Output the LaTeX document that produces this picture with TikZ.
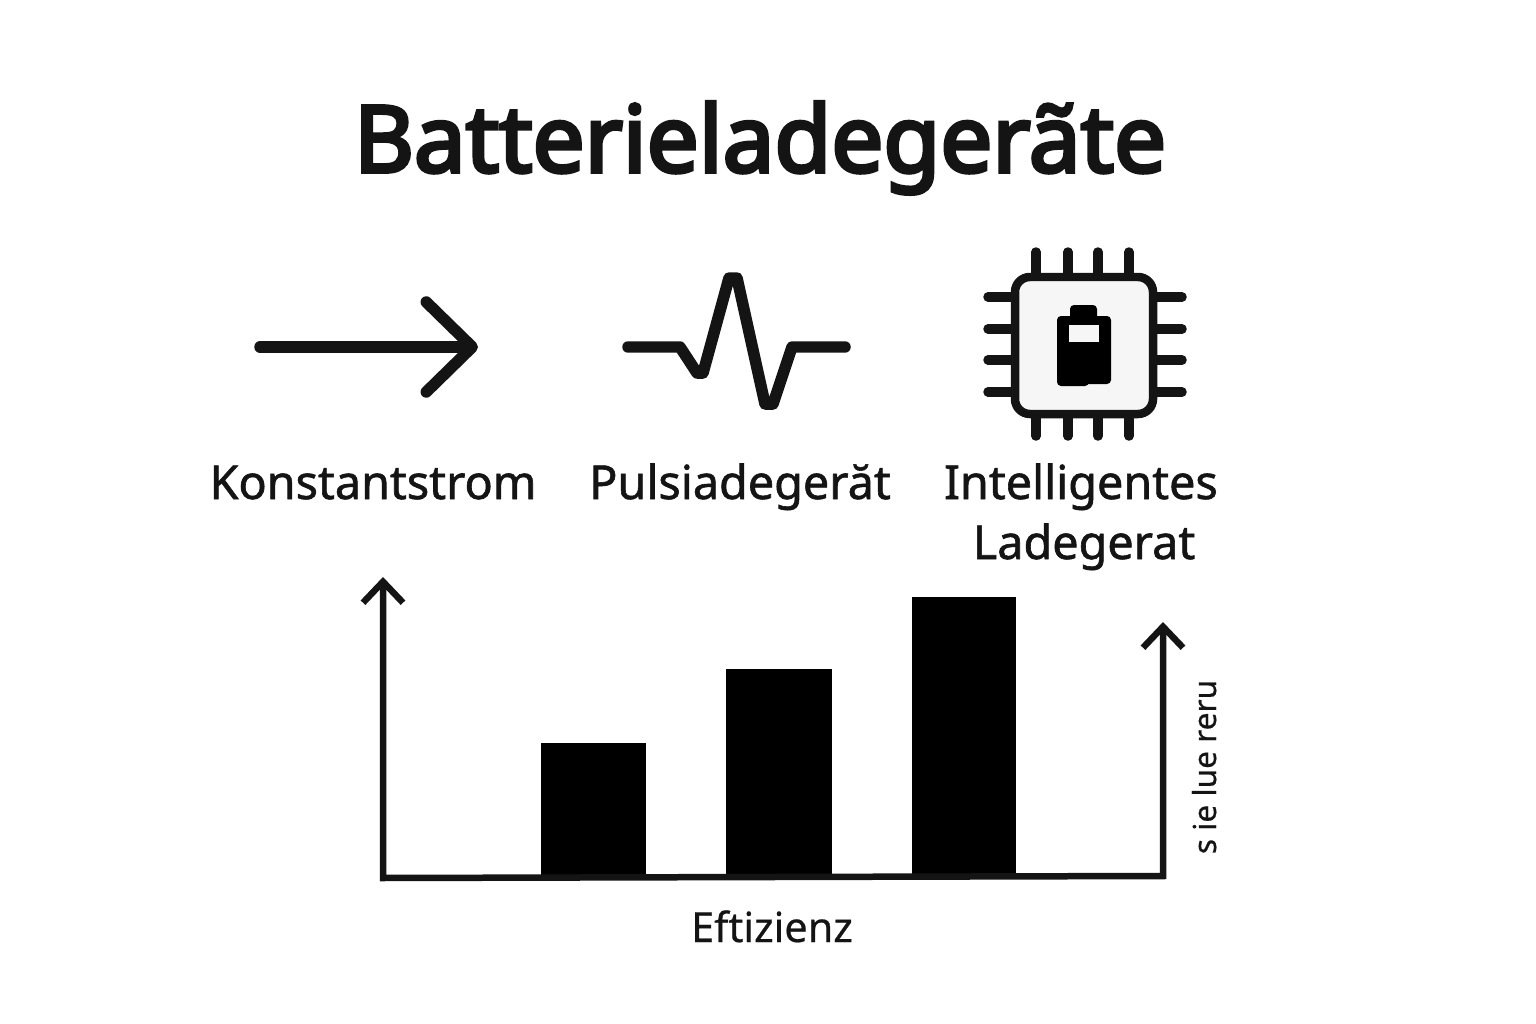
\documentclass[tikz,border=0pt]{standalone}
\usepackage{fontspec}
\setmainfont{Noto Sans}
\newfontfamily\headfont[FakeBold=4]{Noto Sans}
\newfontfamily\labelfont[FakeBold=1.3]{Noto Sans}
\newfontfamily\axisfont[FakeBold=0.5]{Noto Sans}
\usetikzlibrary{arrows.meta}
\definecolor{inkdark}{HTML}{141414}
\definecolor{chipfill}{HTML}{F6F6F6}
\tikzset{
    titletext/.style={anchor=base,text=inkdark,font=\fontsize{52.6}{60}\headfont},
    labeltext/.style={anchor=base,text=inkdark,font=\fontsize{26.6}{30}\labelfont},
    axistext/.style={anchor=base,text=inkdark,font=\fontsize{23.6}{28}\axisfont},
    sidestyle/.style={anchor=base,text=inkdark,rotate=90,font=\fontsize{18}{20}\axisfont},
    iconline/.style={line width=0.23cm,line cap=round,line join=round,color=inkdark},
    pinline/.style={line width=0.19cm,line cap=round,color=inkdark},
    axisline/.style={line width=0.13cm,color=inkdark},
    chartbar/.style={fill=black}
}
\begin{document}
\begin{tikzpicture}[x=0.02cm,y=-0.02cm]
    \useasboundingbox (0,0) rectangle (1536,1024);
    \fill[white] (0,0) rectangle (1536,1024);
    \node[titletext] (title) at (760,172) {Batterieladegerãte};

    \coordinate (arrowstart) at (260,347);
    \coordinate (arrowend) at (478,347);
    \draw[iconline,-{Straight Barb[length=0.92cm,width=1.8cm,round]}] (arrowstart) -- (arrowend);
    \node[labeltext] (constant) at (373,499) {Konstantstrom};

    \draw[iconline] (628,347) -- (680,347) -- (697,373) -- (703,373) -- (729,278) -- (737,278) -- (765,404) -- (773,404) -- (792,347) -- (845,347);
    \node[labeltext] (pulse) at (740,499) {Pulsiadegerăt};

    \foreach \x in {1036,1068,1098,1129} {
        \draw[pinline] (\x,252) -- (\x,275);
        \draw[pinline] (\x,416) -- (\x,436);
    }
    \foreach \y in {297,329,360,392} {
        \draw[pinline] (988,\y) -- (1013,\y);
        \draw[pinline] (1155,\y) -- (1182,\y);
    }
    \draw[line width=0.17cm,color=inkdark,fill=chipfill,rounded corners=0.3cm] (1015,277) rectangle (1153,414);
    \fill[black,rounded corners=0.08cm] (1070,305) rectangle (1097,322);
    \fill[black,rounded corners=0.08cm] (1057,316) rectangle (1111,384);
    \fill[black,rounded corners=0.08cm] (1057,330) rectangle (1089,386);
    \fill[chipfill] (1069,325) rectangle (1099,342);
    \node[labeltext] (smartone) at (1081,499) {Intelligentes};
    \node[labeltext] (smarttwo) at (1084,559) {Ladegerat};

    \fill[chartbar] (541,743) rectangle (646,878);
    \fill[chartbar] (726,669) rectangle (832,878);
    \fill[chartbar] (912,597) rectangle (1016,876);
    \coordinate (lefttop) at (383,577);
    \coordinate (origin) at (383,878);
    \coordinate (rightbase) at (1163,876);
    \coordinate (righttop) at (1163,622);
    \draw[axisline,{Straight Barb[length=0.42cm,width=0.8cm]}-{Straight Barb[length=0.42cm,width=0.8cm]}] (lefttop) -- (origin) -- (rightbase) -- (righttop);
    \node[axistext] (efficiency) at (772,942) {Eftizienz};
    \node[sidestyle] (sidetext) at (1216,767) {s ie lue reru};
\end{tikzpicture}
\end{document}
